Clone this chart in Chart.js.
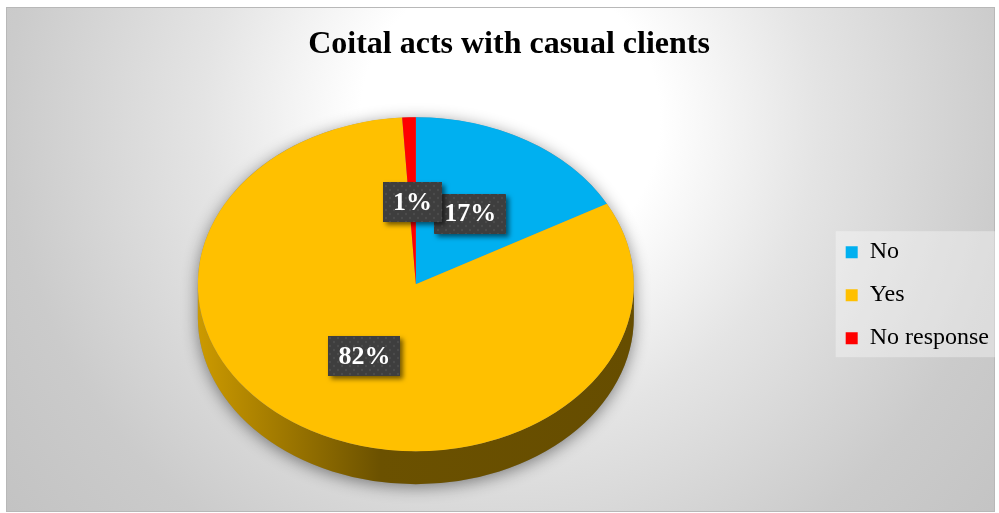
<!DOCTYPE html>
<html>
<head>
<meta charset="utf-8">
<title>Coital acts with casual clients</title>
<script src="https://cdn.jsdelivr.net/npm/chart.js@4.4.1/dist/chart.umd.min.js"></script>
<style>
  html, body { margin: 0; padding: 0; background: #fff; }
  #wrap { width: 999px; height: 513px; }
  canvas { display: block; }
</style>
</head>
<body>
<div id="wrap"><canvas id="pie" width="999" height="513"></canvas></div>
<script>
const categories = ["No", "Yes", "No response"];
const shares = [17, 82, 1];
const sliceColors = ["#00B0F0", "#FFC000", "#FF0000"];
const chartTitle = "Coital acts with casual clients";

const SERIF = "'Liberation Serif', 'Times New Roman', serif";

// fake 3D: squash the top face, add a side wall below it
const TILT = 0.766;
const DEPTH = 33;
const PIE_RADIUS = 218;
const PIE_SHIFT = { x: -7, y: -11 };
const LABEL_RADIUS = 0.49;

function shade(hex, f) {
  const n = parseInt(hex.slice(1), 16);
  const r = Math.round(((n >> 16) & 255) * f);
  const g = Math.round(((n >> 8) & 255) * f);
  const b = Math.round((n & 255) * f);
  return `rgb(${r},${g},${b})`;
}

// dotted dark fill used behind the data labels
function makeLabelPattern(ctx) {
  const c = document.createElement("canvas");
  c.width = 8; c.height = 8;
  const p = c.getContext("2d");
  p.fillStyle = "#3e3e3e";
  p.fillRect(0, 0, 8, 8);
  p.fillStyle = "#4c4c4c";
  p.beginPath(); p.arc(2, 2, 1.2, 0, Math.PI * 2); p.fill();
  p.beginPath(); p.arc(6, 6, 1.2, 0, Math.PI * 2); p.fill();
  return ctx.createPattern(c, "repeat");
}

const backdrop = {
  id: "backdrop",
  beforeDraw(chart) {
    const ctx = chart.ctx;
    ctx.save();
    ctx.fillStyle = "#fff";
    ctx.fillRect(0, 0, chart.width, chart.height);
    const g = ctx.createRadialGradient(510, 120, 0, 510, 120, 750);
    g.addColorStop(0, "#ffffff");
    g.addColorStop(0.2, "#ffffff");
    g.addColorStop(0.41, "#e4e4e4");
    g.addColorStop(0.67, "#cbcbcb");
    g.addColorStop(1, "#bcbcbc");
    ctx.fillStyle = g;
    ctx.fillRect(6, 7, 989, 505);
    ctx.strokeStyle = "#b8b8b8";
    ctx.lineWidth = 1;
    ctx.strokeRect(6.5, 7.5, 988, 504);

    // legend panel
    const lg = chart.legend;
    const hb = lg.legendHitBoxes;
    if (hb && hb.length) {
      const top = hb[0].top - 9;
      const bottom = hb[hb.length - 1].top + hb[hb.length - 1].height + 7;
      ctx.fillStyle = "rgba(255,255,255,0.35)";
      ctx.fillRect(lg.left + 9, top, lg.right - 3 - (lg.left + 9), bottom - top);
    }
    ctx.restore();
  }
};

const pie3d = {
  id: "pie3d",
  beforeDatasetsDraw(chart) {
    const arcs = chart.getDatasetMeta(0).data;
    if (!arcs.length) return;
    const ctx = chart.ctx;
    const ox = arcs[0].x, oy = arcs[0].y;
    const cx = ox + PIE_SHIFT.x, cy = oy + PIE_SHIFT.y;
    const R = arcs[0].outerRadius, ry = R * TILT;

    // soft shadow under the whole disc
    ctx.save();
    ctx.shadowColor = "rgba(0,0,0,0.45)";
    ctx.shadowBlur = 16;
    ctx.shadowOffsetY = 3;
    ctx.fillStyle = "#8a8a8a";
    ctx.beginPath();
    ctx.ellipse(cx, cy, R, ry, 0, Math.PI, 2 * Math.PI);
    ctx.ellipse(cx, cy + DEPTH, R, ry, 0, 0, Math.PI);
    ctx.closePath();
    ctx.fill();
    ctx.restore();

    // side wall, front half only
    arcs.forEach((arc, i) => {
      const a0 = Math.max(arc.startAngle, 0);
      const a1 = Math.min(arc.endAngle, Math.PI);
      if (a1 <= a0) return;
      const col = sliceColors[i];
      const g = ctx.createLinearGradient(cx - R, 0, cx + R, 0);
      g.addColorStop(0, shade(col, 0.8));
      g.addColorStop(0.42, shade(col, 0.42));
      g.addColorStop(1, shade(col, 0.4));
      ctx.beginPath();
      ctx.ellipse(cx, cy, R, ry, 0, a0, a1);
      ctx.ellipse(cx, cy + DEPTH, R, ry, 0, a1, a0, true);
      ctx.closePath();
      ctx.fillStyle = g;
      ctx.fill();
    });

    // top face: the library's arcs, squashed
    ctx.save();
    ctx.translate(cx, cy);
    ctx.scale(1, TILT);
    ctx.translate(-ox, -oy);
  },
  afterDatasetsDraw(chart) {
    const ctx = chart.ctx;
    ctx.restore();
    const arcs = chart.getDatasetMeta(0).data;
    if (!arcs.length) return;
    const cx = arcs[0].x + PIE_SHIFT.x, cy = arcs[0].y + PIE_SHIFT.y;
    const pattern = makeLabelPattern(ctx);

    arcs.forEach((arc, i) => {
      const mid = (arc.startAngle + arc.endAngle) / 2;
      const r = arc.outerRadius * LABEL_RADIUS;
      const x = cx + Math.cos(mid) * r;
      const y = cy + Math.sin(mid) * r * TILT;
      const text = shares[i] + "%";
      ctx.save();
      ctx.font = "bold 26px " + SERIF;
      const w = ctx.measureText(text).width + 20, h = 40;
      ctx.shadowColor = "rgba(0,0,0,0.55)";
      ctx.shadowBlur = 5;
      ctx.shadowOffsetX = 3;
      ctx.shadowOffsetY = 3;
      ctx.fillStyle = pattern;
      ctx.fillRect(Math.round(x - w / 2), Math.round(y - h / 2), Math.round(w), h);
      ctx.restore();
      ctx.save();
      ctx.font = "bold 26px " + SERIF;
      ctx.fillStyle = "#ffffff";
      ctx.textAlign = "center";
      ctx.textBaseline = "middle";
      ctx.fillText(text, x, y + 1);
      ctx.restore();
    });
  }
};

new Chart(document.getElementById("pie"), {
  type: "pie",
  data: {
    labels: categories,
    datasets: [{
      data: shares,
      backgroundColor: sliceColors,
      borderWidth: 0,
      radius: PIE_RADIUS,
      hoverOffset: 0,
      clip: false
    }]
  },
  options: {
    responsive: false,
    animation: false,
    events: [],
    layout: { padding: { left: 19, right: 0, top: 7, bottom: 5 } },
    plugins: {
      title: {
        display: true,
        text: chartTitle,
        color: "#000",
        font: { family: SERIF, size: 32, weight: "bold" },
        padding: { top: 19, bottom: 18 }
      },
      legend: {
        position: "right",
        align: "center",
        fullSize: false,
        labels: {
          color: "#000",
          font: { family: SERIF, size: 24 },
          boxWidth: 12,
          boxHeight: 12,
          padding: 19
        }
      },
      tooltip: { enabled: false }
    }
  },
  plugins: [backdrop, pie3d]
});
</script>
</body>
</html>
